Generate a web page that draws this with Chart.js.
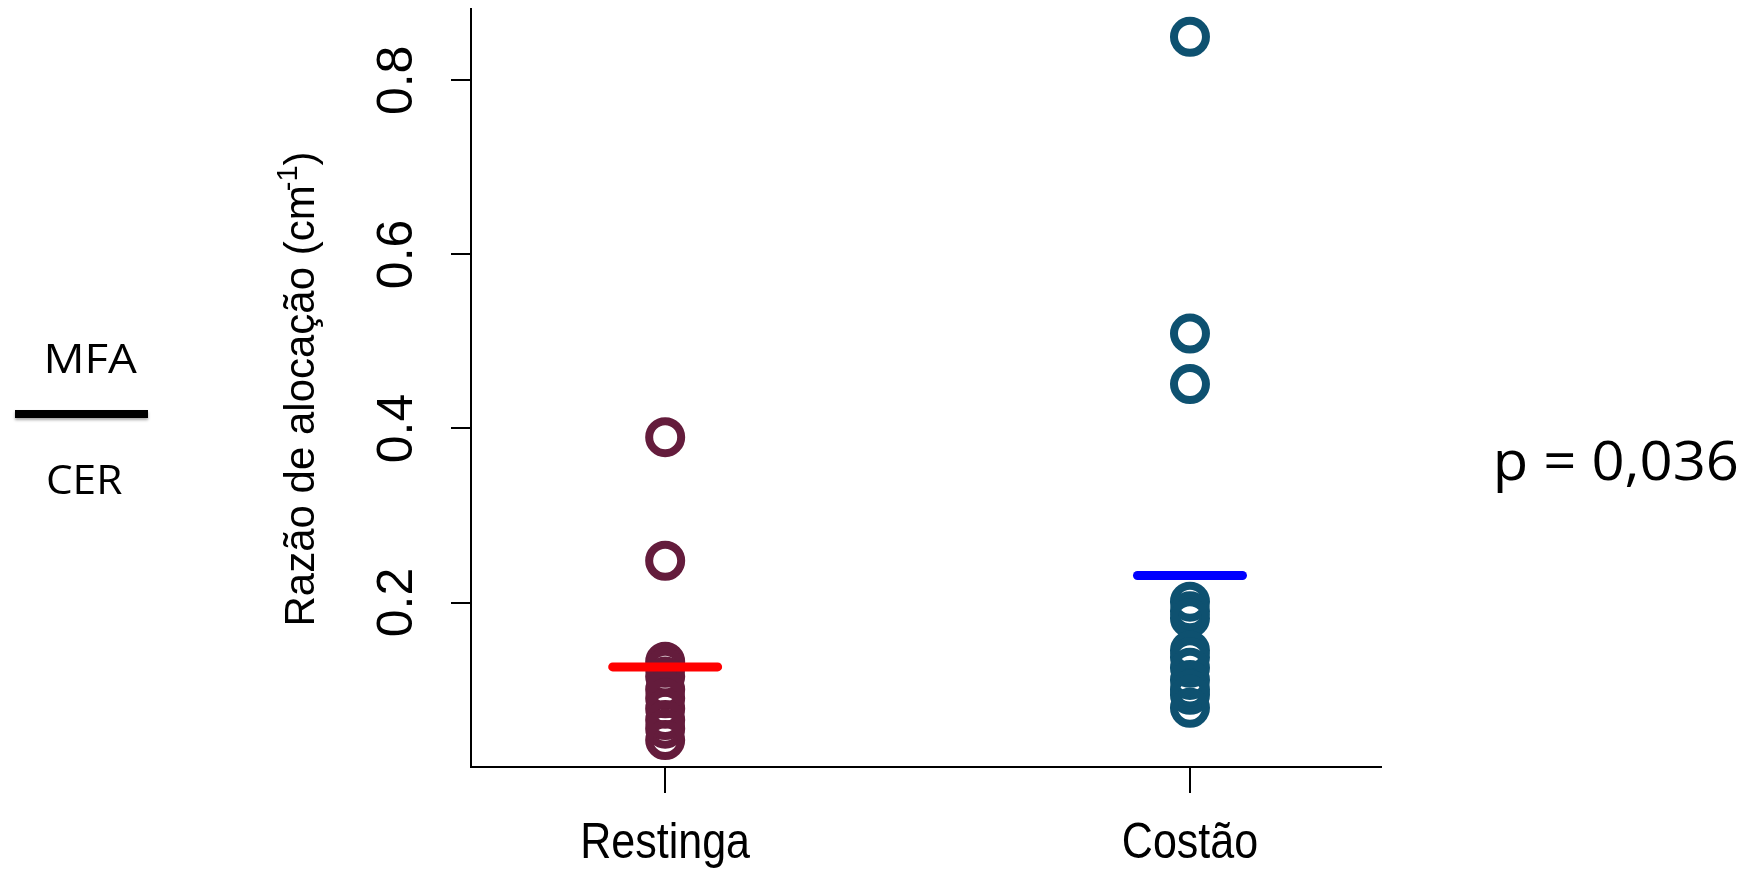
<!DOCTYPE html>
<html><head><meta charset="utf-8">
<script src="https://cdn.jsdelivr.net/npm/chart.js@4.4.1/dist/chart.umd.min.js"></script>
<style>html,body{margin:0;padding:0;background:#fff;overflow:hidden}canvas{display:block}</style>
</head><body>
<canvas id="c" width="1756" height="871"></canvas>
<script>
// ---- data ----
const categories = ['Restinga', 'Costão'];
const restingaValues = [0.39, 0.248, 0.132, 0.125, 0.115, 0.1, 0.09, 0.078, 0.065, 0.055, 0.042];
const costaoValues = [0.85, 0.509, 0.451, 0.201, 0.19, 0.182, 0.145, 0.137, 0.125, 0.111, 0.1, 0.094, 0.079];
const meanValues = [0.126, 0.231];
const yTickValues = [0.2, 0.4, 0.6, 0.8];
const yTickLabels = ['0.2', '0.4', '0.6', '0.8'];
const yAxisTitle = 'Razão de alocação (cm';
const yAxisTitleSup = '-1';
const yAxisTitleEnd = ')';
const ratioTop = 'MFA';
const ratioBottom = 'CER';
const pValueText = 'p = 0,036';

// ---- styles ----
const RFONT = '"Liberation Sans", Arial, sans-serif';
const CFONT = '"Open Sans", "Noto Sans", sans-serif';
const pointColors = ['#641c3c', '#0e5170'];
const meanColors = ['#ff0000', '#0000ff'];
const MEAN_HALF = 0.1;

const pointSets = [restingaValues, costaoValues];
const datasets = [];
meanValues.forEach((m, i) => {
  datasets.push({
    type: 'line',
    data: [{x: i + 1 - MEAN_HALF, y: m}, {x: i + 1 + MEAN_HALF, y: m}],
    borderColor: meanColors[i], borderWidth: 9, borderCapStyle: 'round',
    pointRadius: 0, fill: false, clip: false
  });
});
pointSets.forEach((vals, i) => {
  datasets.push({
    type: 'scatter',
    data: vals.map(v => ({x: i + 1, y: v})),
    pointStyle: 'circle', pointRadius: 16, pointBorderWidth: 8,
    pointBorderColor: pointColors[i], pointBackgroundColor: 'rgba(0,0,0,0)',
    clip: false
  });
});

function scaledText(ctx, text, x, y, font, targetWidth) {
  ctx.save();
  ctx.font = font;
  const m = ctx.measureText(text);
  const w = m.actualBoundingBoxLeft + m.actualBoundingBoxRight;
  const sx = targetWidth / w;
  ctx.translate(x, y);
  ctx.scale(sx, 1);
  ctx.textAlign = 'left';
  ctx.textBaseline = 'alphabetic';
  ctx.fillText(text, m.actualBoundingBoxLeft, 0);
  ctx.restore();
}

const textPlugin = {
  id: 'texts',
  afterDraw(chart) {
    const ctx = chart.ctx;
    const xs = chart.scales.x, ys = chart.scales.y;
    ctx.save();
    ctx.fillStyle = '#000';
    // y tick labels (rotated)
    ctx.font = '50px ' + RFONT;
    yTickValues.forEach((v, i) => {
      const py = ys.getPixelForValue(v);
      ctx.save();
      ctx.translate(412, py);
      ctx.rotate(-Math.PI / 2);
      ctx.textAlign = 'center';
      ctx.textBaseline = 'alphabetic';
      ctx.fillText(yTickLabels[i], 0, 0);
      ctx.restore();
    });
    // x category labels
    categories.forEach((c, i) => {
      const px = xs.getPixelForValue(i + 1);
      ctx.save();
      ctx.translate(px, 858);
      ctx.scale(0.86, 1);
      ctx.font = '50px ' + RFONT;
      ctx.textAlign = 'center';
      ctx.textBaseline = 'alphabetic';
      ctx.fillText(c, 0, 0);
      ctx.restore();
    });
    // y axis title with superscript
    ctx.save();
    ctx.translate(314, 389);
    ctx.rotate(-Math.PI / 2);
    ctx.textBaseline = 'alphabetic';
    ctx.textAlign = 'left';
    const mainFont = '42px ' + RFONT, supFont = '29px ' + RFONT;
    ctx.font = mainFont; const w1 = ctx.measureText(yAxisTitle).width; const w3 = ctx.measureText(yAxisTitleEnd).width;
    ctx.font = supFont; const w2 = ctx.measureText(yAxisTitleSup).width;
    const overlap = 6;
    const total = w1 + w2 - overlap + w3;
    let sx0 = -total / 2;
    ctx.font = mainFont; ctx.fillText(yAxisTitle, sx0, 0);
    ctx.font = supFont; ctx.fillText(yAxisTitleSup, sx0 + w1 - overlap, -17);
    ctx.font = mainFont; ctx.fillText(yAxisTitleEnd, sx0 + w1 - overlap + w2, 0);
    ctx.restore();
    // ratio annotation
    scaledText(ctx, ratioTop, 48, 373, '41px ' + CFONT, 89);
    scaledText(ctx, ratioBottom, 48, 494, '41px ' + CFONT, 74);
    ctx.save();
    ctx.shadowColor = 'rgba(0,0,0,0.35)'; ctx.shadowBlur = 3; ctx.shadowOffsetY = 2;
    ctx.fillRect(15, 410, 133, 8);
    ctx.restore();
    // p value
    scaledText(ctx, pValueText, 1497, 480, '54px ' + CFONT, 240);
    ctx.restore();
  }
};

new Chart(document.getElementById('c'), {
  type: 'scatter',
  data: {datasets},
  options: {
    responsive: false, animation: false, devicePixelRatio: 1, events: [],
    layout: {autoPadding: false, padding: {top: 9, right: 375, bottom: 0, left: 0}},
    plugins: {legend: {display: false}, tooltip: {enabled: false}, title: {display: false}},
    scales: {
      x: {
        type: 'linear', position: 'bottom', min: 0.63, max: 2.364,
        afterBuildTicks: s => { s.ticks = categories.map((c, i) => ({value: i + 1})); },
        afterFit: s => { s.height = 104; },
        ticks: {display: false},
        grid: {drawOnChartArea: false, drawTicks: true, tickLength: 26, color: '#000', lineWidth: 2},
        border: {display: true, color: '#000', width: 2}
      },
      y: {
        type: 'linear', position: 'left', min: 0.011, max: 0.882,
        afterBuildTicks: s => { s.ticks = yTickValues.map(v => ({value: v})); },
        afterFit: s => { s.width = 471; },
        ticks: {display: false},
        grid: {drawOnChartArea: false, drawTicks: true, tickLength: 20, color: '#000', lineWidth: 2},
        border: {display: true, color: '#000', width: 2}
      }
    }
  },
  plugins: [textPlugin]
});
</script>
</body></html>
